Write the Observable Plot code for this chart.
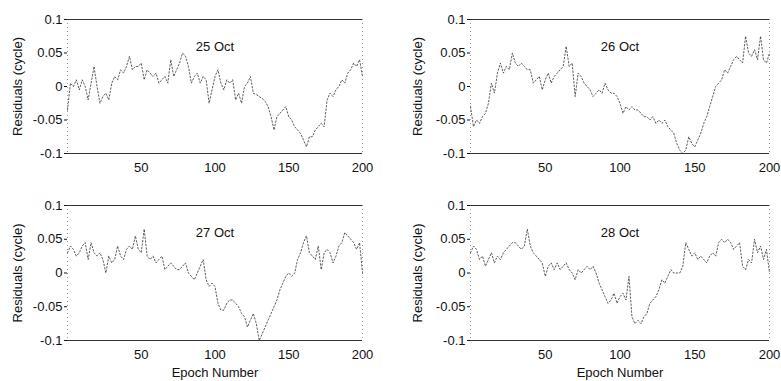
<!DOCTYPE html>
<html>
<head>
<meta charset="utf-8">
<script src="https://cdn.jsdelivr.net/npm/d3@7"></script>
<script src="https://cdn.jsdelivr.net/npm/@observablehq/plot@0.6"></script>
<style>
  html, body { margin: 0; padding: 0; background: #fff; }
  #wrap { position: relative; width: 781px; height: 381px; overflow: hidden; background: #fff; }
  #wrap > div { position: absolute; }
  svg { font-family: Arial, "Liberation Sans", Helvetica, sans-serif; }
</style>
</head>
<body>
<div id="wrap"></div>
<script>
const epochs = d3.range(0, 201, 2);

const v25 = [-0.035,0.005,0.0,0.01,-0.005,0.01,0.0,-0.02,0.005,0.03,
  0.0,-0.025,-0.015,-0.01,-0.02,0.005,0.015,0.01,0.025,0.02,
  0.03,0.045,0.025,0.03,0.03,0.035,0.01,0.025,0.02,0.015,
  0.02,0.005,0.01,0.015,0.005,0.04,0.015,0.025,0.035,0.05,
  0.045,0.03,0.005,0.015,0.02,0.005,0.015,0.01,-0.025,-0.005,
  0.015,0.025,0.005,-0.005,0.01,0.005,0.01,-0.02,-0.01,-0.025,
  0.0,0.005,0.015,-0.01,-0.012,-0.015,-0.018,-0.022,-0.03,-0.045,
  -0.065,-0.045,-0.04,-0.035,-0.03,-0.045,-0.05,-0.06,-0.065,-0.07,
  -0.08,-0.09,-0.075,-0.075,-0.065,-0.06,-0.055,-0.06,-0.02,-0.01,
  -0.015,-0.005,0.0,0.01,0.005,0.02,0.025,0.035,0.03,0.04,0.015];

const v26 = [-0.03,-0.06,-0.05,-0.055,-0.045,-0.04,-0.025,0.005,-0.01,0.02,
  0.035,0.02,0.03,0.025,0.05,0.035,0.03,0.035,0.03,0.025,
  0.025,0.005,0.01,0.015,-0.005,0.01,0.02,0.005,0.015,0.02,
  0.025,0.03,0.06,0.03,0.035,-0.015,0.02,0.015,0.005,0.0,
  -0.005,-0.015,-0.01,-0.005,-0.01,0.005,-0.005,-0.01,-0.01,-0.015,
  -0.025,-0.04,-0.03,-0.035,-0.03,-0.035,-0.035,-0.04,-0.045,-0.045,
  -0.05,-0.045,-0.055,-0.05,-0.055,-0.05,-0.06,-0.065,-0.07,-0.085,
  -0.095,-0.1,-0.095,-0.075,-0.085,-0.09,-0.08,-0.07,-0.055,-0.045,
  -0.03,-0.015,0.0,0.005,0.01,0.025,0.02,0.03,0.04,0.045,
  0.04,0.035,0.075,0.05,0.045,0.055,0.04,0.075,0.04,0.035,0.05];

const v27 = [0.03,0.04,0.035,0.025,0.03,0.04,0.045,0.02,0.045,0.03,
  0.025,0.03,0.02,0.0,0.025,0.015,0.02,0.04,0.025,0.02,
  0.035,0.04,0.035,0.055,0.035,0.03,0.065,0.025,0.02,0.025,
  0.015,0.02,0.025,0.005,0.01,0.015,0.01,0.005,0.005,0.01,
  0.015,0.0,-0.005,-0.01,0.0,0.01,0.02,-0.01,-0.02,-0.015,
  -0.02,-0.045,-0.055,-0.055,-0.045,-0.04,-0.04,-0.045,-0.05,-0.06,
  -0.065,-0.08,-0.07,-0.06,-0.075,-0.1,-0.09,-0.08,-0.07,-0.06,
  -0.05,-0.04,-0.025,-0.015,-0.005,0.0,-0.005,0.0,0.02,0.03,
  0.045,0.055,0.03,0.025,0.02,0.04,0.005,0.03,0.035,0.03,
  0.015,0.025,0.04,0.045,0.06,0.055,0.05,0.045,0.035,0.045,0.0];

const v28 = [0.03,0.04,0.035,0.02,0.025,0.01,0.02,0.03,0.015,0.025,
  0.02,0.03,0.035,0.04,0.045,0.045,0.04,0.035,0.04,0.065,
  0.04,0.03,0.025,0.02,0.015,-0.005,0.01,0.015,0.005,0.015,
  0.005,0.01,0.015,0.005,0.0,-0.01,0.005,0.0,0.005,0.01,
  0.005,0.01,0.0,-0.015,-0.025,-0.035,-0.045,-0.04,-0.03,-0.045,
  -0.035,-0.03,-0.04,-0.005,-0.065,-0.075,-0.07,-0.075,-0.065,-0.06,
  -0.045,-0.04,-0.035,-0.025,-0.01,-0.015,-0.005,0.005,0.0,0.0,
  0.0,0.01,0.045,0.035,0.025,0.03,0.02,0.025,0.02,0.015,
  0.025,0.03,0.025,0.045,0.05,0.045,0.05,0.045,0.035,0.04,
  0.045,0.01,0.005,0.02,0.015,0.05,0.03,0.04,0.02,0.035,0.0];

const panelTitles = ["25 Oct", "26 Oct", "27 Oct", "28 Oct"];
const yTicks = [-0.1, -0.05, 0, 0.05, 0.1];
const xTicks = [50, 100, 150, 200];
const yLabel = "Residuals (cycle)";
const xLabel = "Epoch Number";

const panels = [
  {values: v25, title: panelTitles[0], left: 0,   top: 0,   w: 390, h: 190, ml: 67, mr: 28, mt: 19, mb: 37, xl: false, lo: 55},
  {values: v26, title: panelTitles[1], left: 390, top: 0,   w: 391, h: 190, ml: 80, mr: 12, mt: 19, mb: 37, xl: false, lo: 58},
  {values: v27, title: panelTitles[2], left: 0,   top: 190, w: 390, h: 191, ml: 67, mr: 28, mt: 15, mb: 41, xl: true,  lo: 55},
  {values: v28, title: panelTitles[3], left: 390, top: 190, w: 391, h: 191, ml: 80, mr: 12, mt: 15, mb: 41, xl: true,  lo: 58}
];

const wrap = document.getElementById("wrap");
for (const p of panels) {
  const data = epochs.map((e, i) => ({epoch: e, r: p.values[i]}));
  const chart = Plot.plot({
    width: p.w, height: p.h,
    marginLeft: p.ml, marginRight: p.mr, marginTop: p.mt, marginBottom: p.mb,
    style: {fontSize: "13px", fontFamily: "Arial, 'Liberation Sans', sans-serif", color: "#111", background: "#fff", overflow: "visible"},
    x: {domain: [0, 200]},
    y: {domain: [-0.1, 0.1]},
    marks: [
      Plot.ruleX([0, 200], {stroke: "#999", strokeWidth: 1, strokeDasharray: "1,3"}),
      Plot.ruleY([-0.1, 0.1], {stroke: "#333", strokeWidth: 1}),
      Plot.line(data, {x: "epoch", y: "r", stroke: "#333", strokeWidth: 0.8, strokeDasharray: "1.5,2"}),
      Plot.axisY(yTicks, {tickSize: 3, tickPadding: 2, tickFormat: d => d === 0 ? "0" : String(d),
        label: yLabel, labelAnchor: "center", labelOffset: p.lo, labelArrow: "none"}),
      Plot.axisX(xTicks, {tickSize: 0, tickPadding: 9, tickFormat: d => String(d),
        label: p.xl ? xLabel : null, labelAnchor: "center", labelOffset: 36, labelArrow: "none"}),
      Plot.text([p.title], {text: d => d, frameAnchor: "top", dy: 22, fontSize: 13})
    ]
  });
  const holder = document.createElement("div");
  holder.style.left = p.left + "px";
  holder.style.top = p.top + "px";
  holder.appendChild(chart);
  wrap.appendChild(holder);
}
</script>
</body>
</html>
